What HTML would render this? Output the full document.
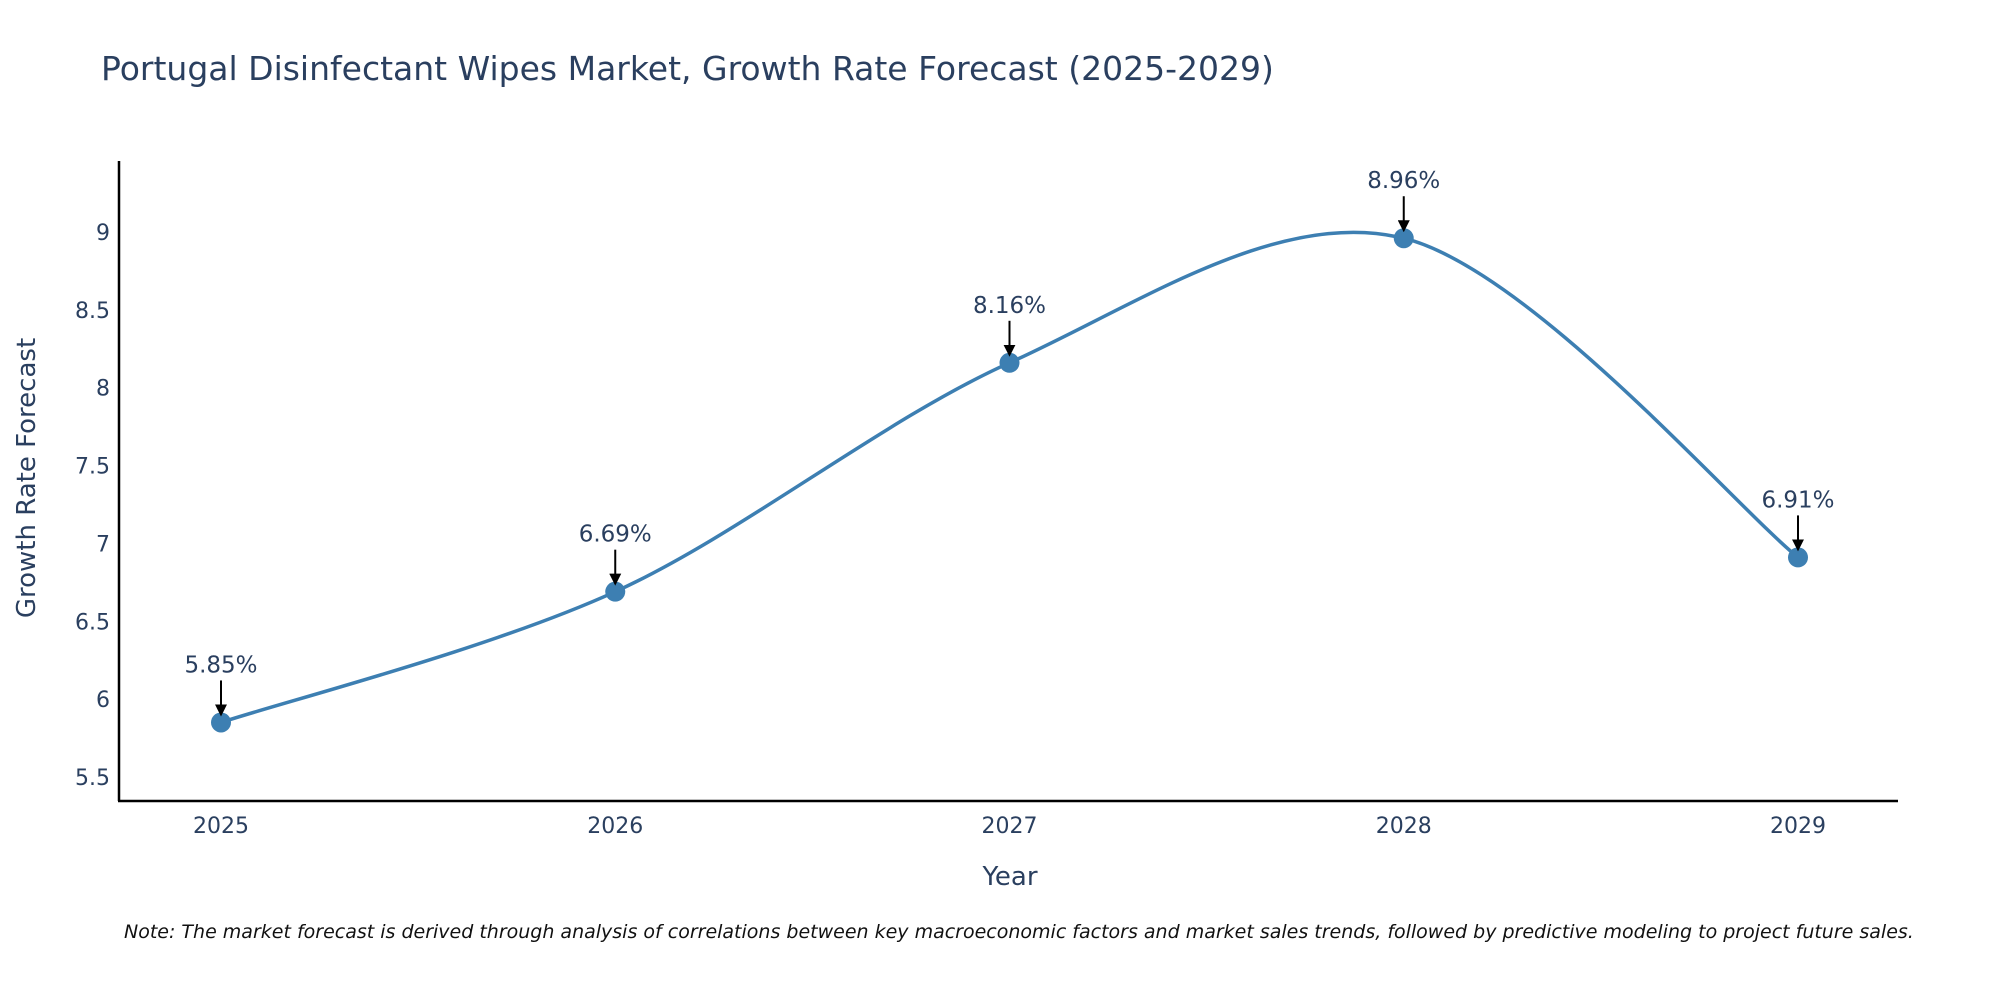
<!DOCTYPE html>
<html><head><meta charset="utf-8"><style>
body{margin:0;background:#fff;}
svg text{font-family:"DejaVu Sans","Liberation Sans",sans-serif;fill:#2a3f5f;}
</style></head><body>
<svg id="chart" width="2000" height="1000" xmlns="http://www.w3.org/2000/svg">
<text x="101" y="80" font-size="33">Portugal Disinfectant Wipes Market, Growth Rate Forecast (2025-2029)</text>
<g id="axes"></g>
<g id="series"></g>
<text x="1010" y="885" font-size="26" text-anchor="middle">Year</text>
<text transform="translate(35,478) rotate(-90)" font-size="26" text-anchor="middle">Growth Rate Forecast</text>
<text x="124" y="938" font-size="19" font-style="italic" style="fill:#111">Note: The market forecast is derived through analysis of correlations between key macroeconomic factors and market sales trends, followed by predictive modeling to project future sales.</text>
</svg>
<script>
const years=[2025,2026,2027,2028,2029];
const values=[5.85,6.69,8.16,8.96,6.91];
const labels=["5.85%","6.69%","8.16%","8.96%","6.91%"];
const yTicks=[5.5,6,6.5,7,7.5,8,8.5,9];
const NS="http://www.w3.org/2000/svg";
const X=y=>221+(y-2025)*394.25;
const Y=v=>232+(9-v)*155.7;
function mk(t,a,p){const e=document.createElementNS(NS,t);for(const k in a)e.setAttribute(k,a[k]);p.appendChild(e);return e;}
const ax=document.getElementById('axes'),se=document.getElementById('series');
let l=mk('line',{x1:119,y1:161,x2:119,y2:801,stroke:'#000','stroke-width':2.5},ax);


l=mk('line',{x1:118,y1:801,x2:1898,y2:801,stroke:'#000','stroke-width':2.5},ax);


yTicks.forEach(v=>{const t=mk('text',{x:110,y:Y(v)+8,'font-size':22,'text-anchor':'end'},ax);t.textContent=v;

});
years.forEach(y=>{const t=mk('text',{x:X(y),y:833,'font-size':22,'text-anchor':'middle'},ax);t.textContent=y;

});
const pts=years.map((y,i)=>[X(y),Y(values[i])]);
let d='M'+pts[0][0]+','+pts[0][1];
const s=0.16;
for(let i=0;i<pts.length-1;i++){const p0=pts[Math.max(i-1,0)],p1=pts[i],p2=pts[i+1],p3=pts[Math.min(i+2,pts.length-1)];
d+=` C${p1[0]+(p2[0]-p0[0])*s},${p1[1]+(p2[1]-p0[1])*s} ${p2[0]-(p3[0]-p1[0])*s},${p2[1]-(p3[1]-p1[1])*s} ${p2[0]},${p2[1]}`;}
const path=mk('path',{d:d,fill:'none',stroke:'#3d7fb2','stroke-width':3.5},se);


mk('defs',{},se).innerHTML='<marker id="ah" markerWidth="6" markerHeight="6" refX="5" refY="3" orient="auto" markerUnits="strokeWidth"><path d="M0,0 L6,3 L0,6 z" fill="#000"/></marker>';
pts.forEach((p,i)=>{
const c=mk('circle',{cx:p[0],cy:p[1],r:10,fill:'#3d7fb2'},se);


const a=mk('line',{x1:p[0],y1:p[1]-42,x2:p[0],y2:p[1]-8,stroke:'#000','stroke-width':2,'marker-end':'url(#ah)'},se);


const t=mk('text',{x:p[0],y:p[1]-50,'font-size':23,'text-anchor':'middle'},se);t.textContent=labels[i];


});
</script>
</body></html>
